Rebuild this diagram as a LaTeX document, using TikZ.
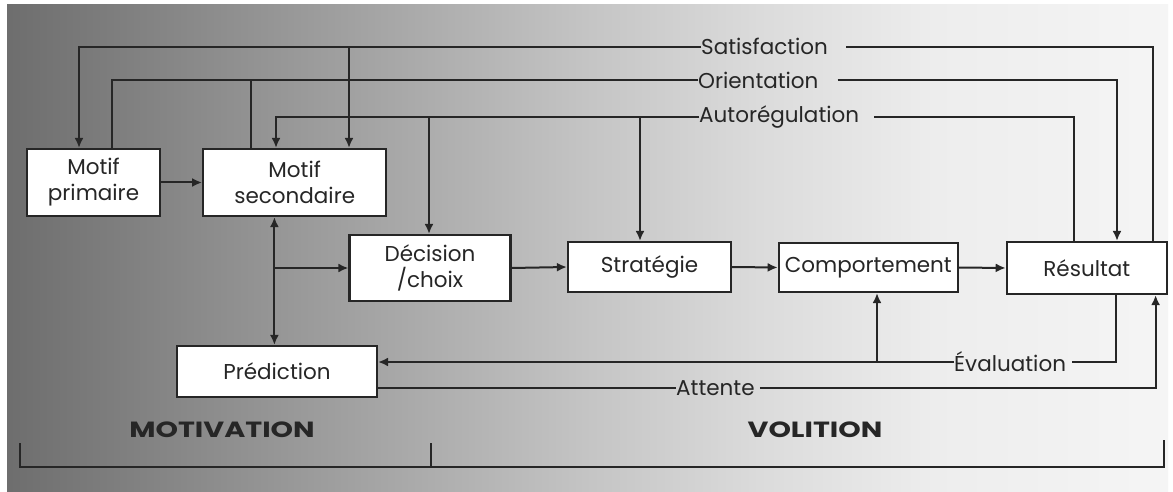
\documentclass[tikz,border=0pt]{standalone}
\usepackage{fontspec}
\usepackage{graphicx}
\setmainfont{Poppins}
\usetikzlibrary{arrows.meta}
\pgfdeclarehorizontalshading{bgshade}{100bp}{color(0bp)=(black!57); color(25bp)=(black!57);
  color(37.5bp)=(black!40); color(50bp)=(black!23); color(57.5bp)=(black!14);
  color(65bp)=(black!7); color(75bp)=(black!4); color(100bp)=(black!4)}
\tikzset{
  box/.style={draw=black!85,line width=2.2pt,fill=white,inner sep=0pt,align=center,
    font=\fontsize{21.5}{26}\selectfont,text=black!85},
  lbl/.style={inner sep=0pt,anchor=west,font=\fontsize{21.5}{24}\selectfont,text=black!85},
  link/.style={line width=2pt,draw=black!85,-{Latex[length=10pt,width=9pt]}},
  plain/.style={line width=2pt,draw=black!85},
  phase/.style={font=\fontsize{22}{26}\selectfont\bfseries,text=black!85}
}

\begin{document}
\begin{tikzpicture}[x=1pt,y=-1pt]
  \useasboundingbox (0,0) rectangle (1173,492);
  \fill[white] (0,0) rectangle (1173,492);
  \shade[shading=bgshade] (7,5) rectangle (1168,492);

  \node[box,minimum width=133,minimum height=67] (mp) at (93.5,182.5) {Motif\\primaire};
  \node[box,minimum width=183,minimum height=67] (ms) at (294.7,182.5) {Motif\\secondaire};
  \node[box,minimum width=161,minimum height=66] (dec) at (430,268) {Décision\\/choix};
  \node[box,minimum width=163,minimum height=50] (strat) at (649.5,267) {Stratégie};
  \node[box,minimum width=179,minimum height=49] (comp) at (868.3,267.5) {Comportement};
  \node[box,minimum width=160,minimum height=52] (res) at (1086.8,268) {Résultat};
  \node[box,minimum width=200,minimum height=51] (pred) at (277,371.5) {Prédiction};

  \node[lbl] (sat) at (701,46.7) {Satisfaction};
  \node[lbl] (ori) at (698,80) {Orientation};
  \node[lbl] (aut) at (699,117.3) {Autorégulation};
  \node[lbl] (eva) at (954,362) {Évaluation};
  \node[lbl] (att) at (676,388) {Attente};

  \node[phase] (mot) at (222,430) {\scalebox{1.3}[1]{MOTIVATION}};
  \node[phase] (vol) at (815,430) {\scalebox{1.3}[1]{VOLITION}};

  \coordinate (s1) at ([xshift=54.3]ms.north);
  \coordinate (o1) at ([xshift=-44]ms.north);
  \coordinate (a1) at ([xshift=-1]dec.north);
  \coordinate (a2) at ([xshift=-9.5]strat.north);
  \coordinate (v1) at ([xshift=-20.3]ms.south);
  \coordinate (c1) at ([xshift=8.7]comp.south);

  \draw[plain] ([xshift=66.2]res.north) |- ([xshift=18]sat.east);
  \draw[link] (sat.west) -| ([xshift=-14.5]mp.north);
  \draw[link] (s1 |- sat.west) -- (s1);

  \draw[plain] ([xshift=18.5]mp.north) |- (ori.west);
  \draw[plain] (o1) -- (o1 |- ori.west);
  \draw[link] ([xshift=19]ori.east) -| ([xshift=30.2]res.north);

  \draw[plain] ([xshift=-13.2]res.north) |- ([xshift=15]aut.east);
  \draw[link] (aut.west) -| ([xshift=-18.7]ms.north);
  \draw[link] (a1 |- aut.west) -- (a1);
  \draw[link] (a2 |- aut.west) -- (a2);

  \draw[link] (mp.east) -- (ms.west);
  \draw[link,{Latex[length=10pt,width=9pt]}-{Latex[length=10pt,width=9pt]}] (v1) -- (v1 |- pred.north);
  \draw[link] (v1 |- dec.west) -- (dec.west);
  \draw[link] (dec.east) -- (strat.west);
  \draw[link] (strat.east) -- (comp.west);
  \draw[link] (comp.east) -- (res.west);

  \draw[plain] ([xshift=29.2]res.south) |- ([xshift=6]eva.east);
  \draw[link] (eva.west) -- (eva.west -| pred.east);
  \draw[link] (c1 |- eva.west) -- (c1);
  \draw[plain] ([yshift=-16.5]pred.east) -- (att.west);
  \draw[link] ([xshift=5]att.east) -| ([xshift=68.8]res.south);

  \draw[plain] (20,443) -- (20,467) -- (1164,467) -- (1164,440);
  \draw[plain] (431,443) -- (431,467);
\end{tikzpicture}
\end{document}
